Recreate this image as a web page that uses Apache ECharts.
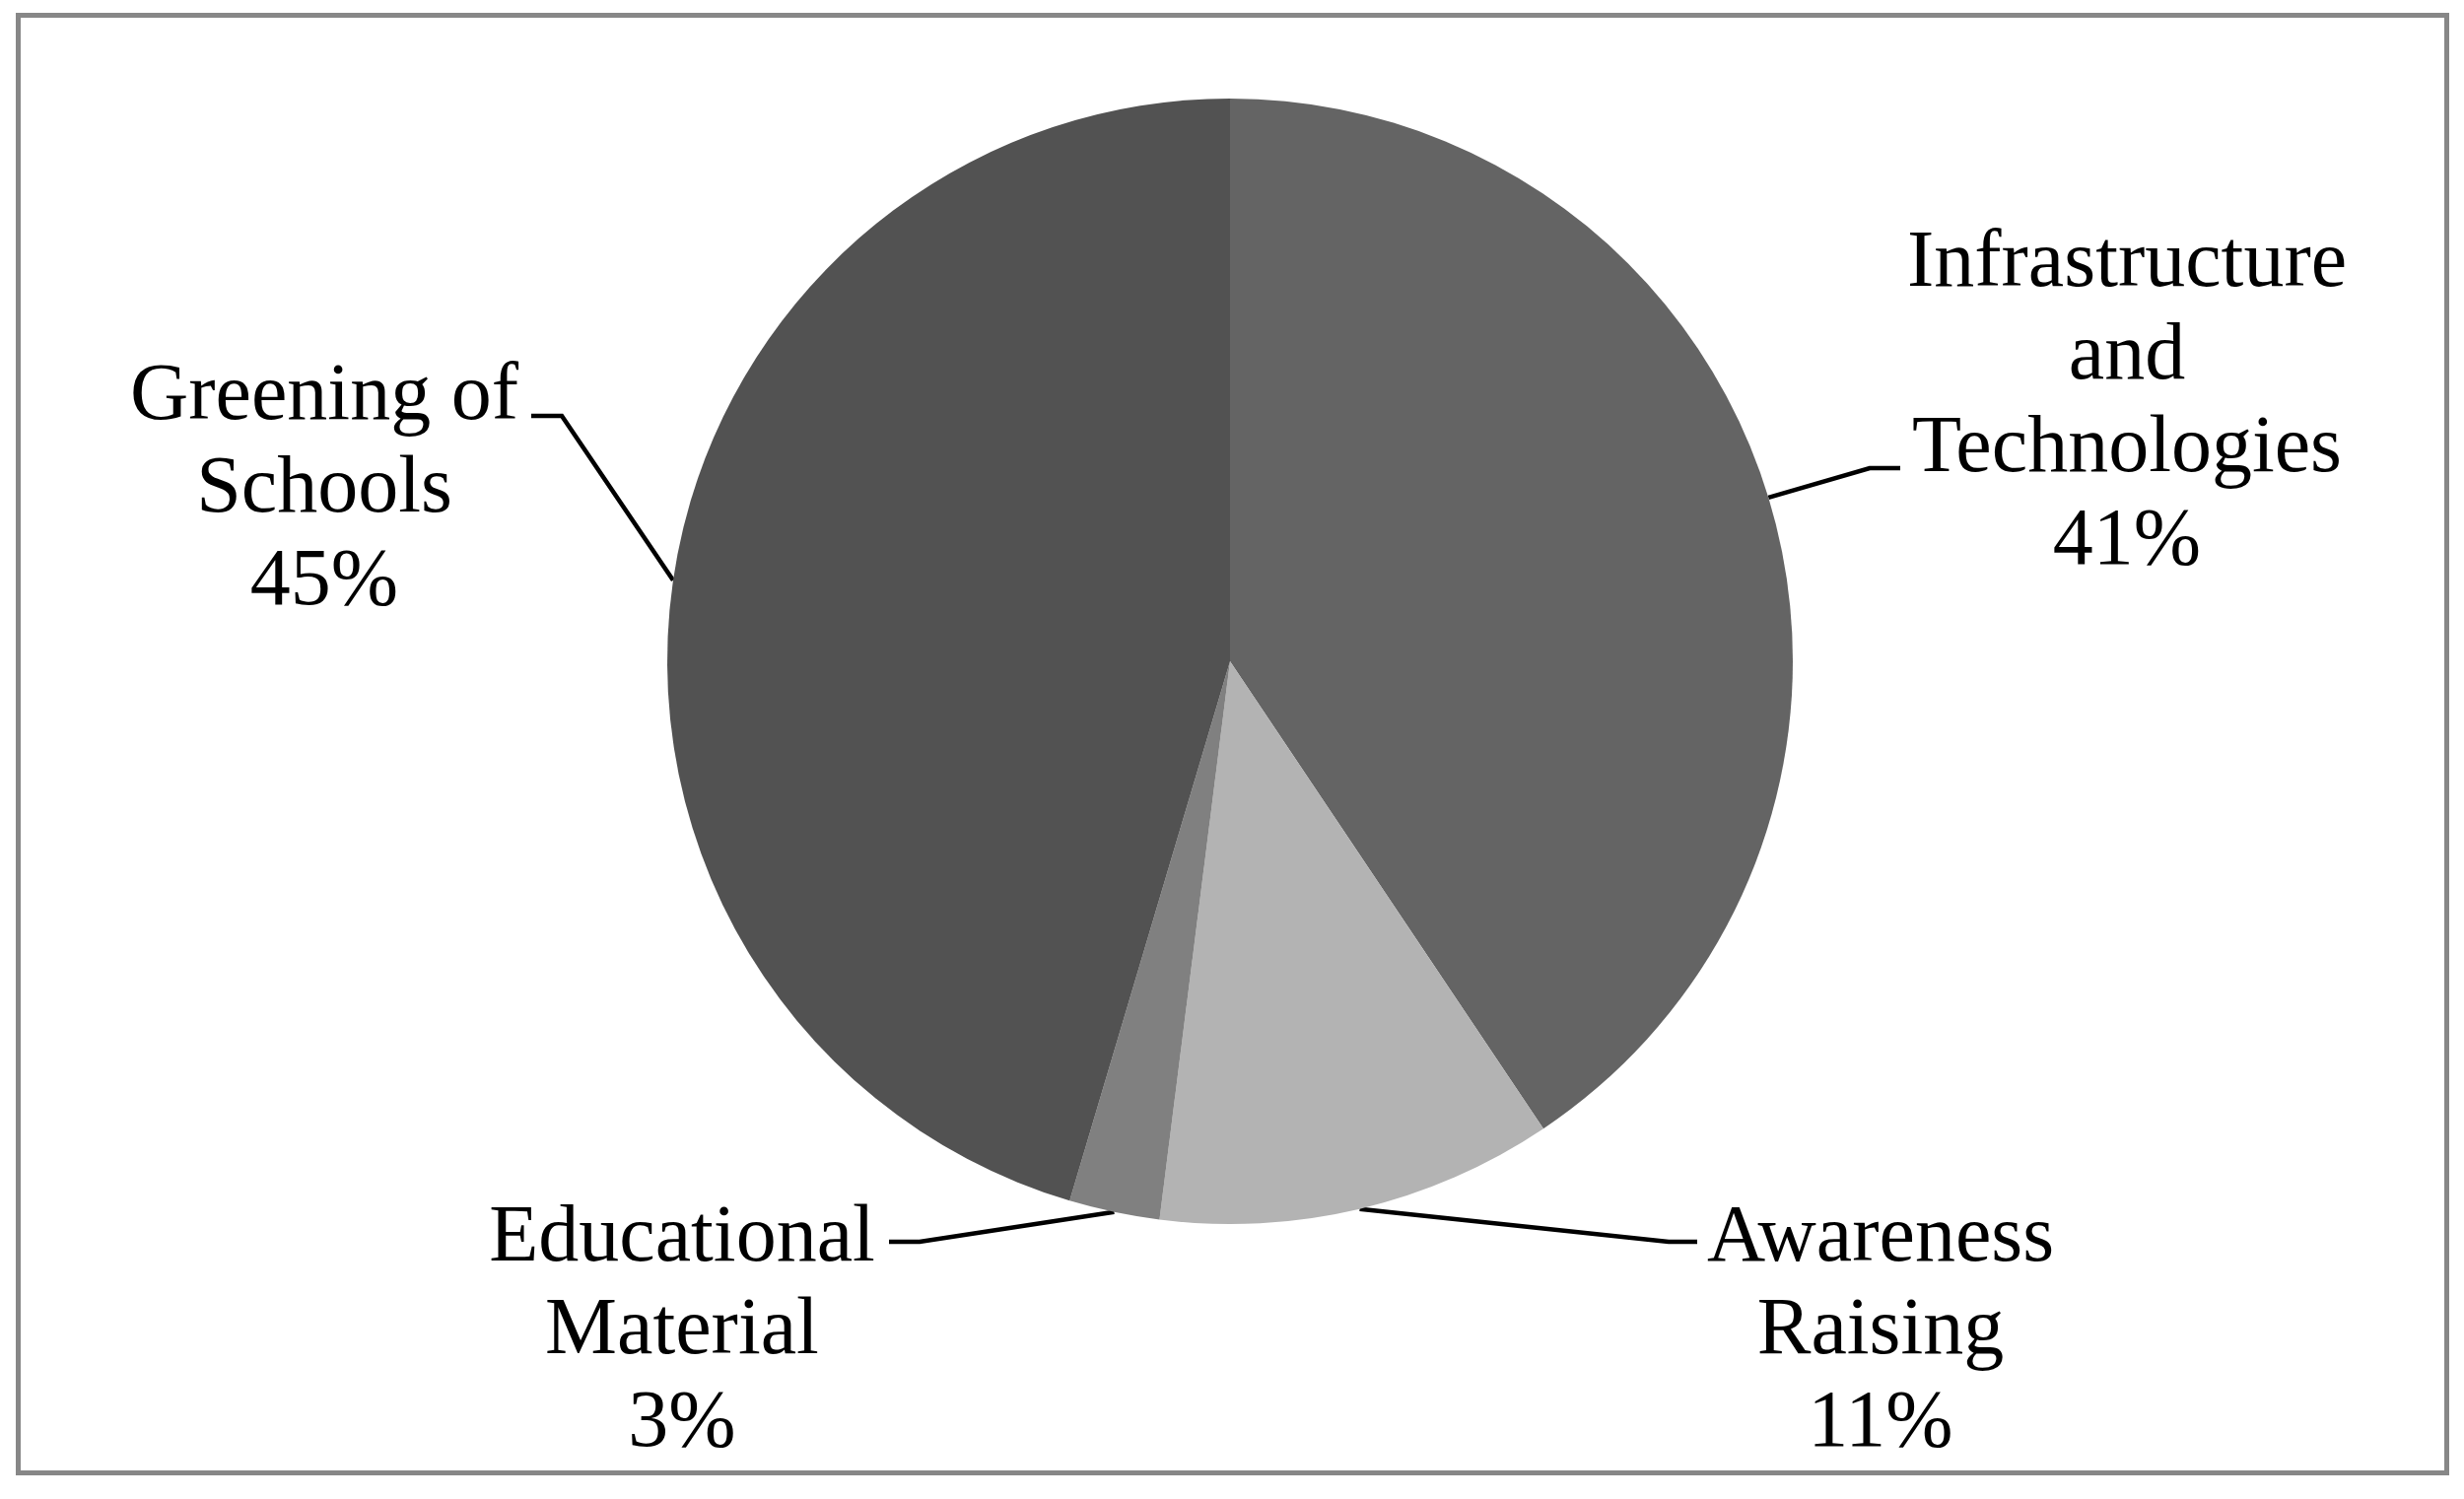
<!DOCTYPE html>
<html>
<head>
<meta charset="utf-8">
<style>
html,body{margin:0;padding:0;background:#fff;}
#chart{width:2500px;height:1521px;}
</style>
<script src="https://cdn.jsdelivr.net/npm/echarts@6/dist/echarts.min.js"></script>
</head>
<body>
<div id="chart"></div>
<script>
// ---- data ----
const categories = ['Infrastructure\nand\nTechnologies', 'Awareness\nRaising', 'Educational\nMaterial', 'Greening of\nSchools'];
const shares = [40.6, 11.4, 2.6, 45.4];
const sliceColors = ['#646464', '#b3b3b3', '#808080', '#525252'];

// ---- layout (label placement, leader-line bends) ----
const pieCenter = [1248, 671];
const pieRadius = 571;
const labelAnchor = [ [2158, 409], [1908, 1351], [692, 1351], [329, 497] ];
const leaderBend = [
  [[1897, 475], [1928, 475]],
  [[1693, 1260], [1722, 1260]],
  [[933, 1260], [902, 1260]],
  [[570, 422], [539, 422]]
];

const total = shares.reduce((a, b) => a + b, 0);
function edgePoint(i) {
  let before = 0;
  for (let k = 0; k < i; k++) before += shares[k];
  const mid = (before + shares[i] / 2) / total * Math.PI * 2;
  return [pieCenter[0] + pieRadius * Math.sin(mid), pieCenter[1] - pieRadius * Math.cos(mid)];
}

const chart = echarts.init(document.getElementById('chart'), null, {renderer: 'canvas'});
chart.setOption({
  backgroundColor: '#ffffff',
  animation: false,
  graphic: [{
    type: 'rect',
    shape: {x: 18.5, y: 15.5, width: 2464, height: 1479},
    style: {fill: null, stroke: '#878787', lineWidth: 5},
    silent: true,
    z: -1
  }],
  series: [{
    type: 'pie',
    center: pieCenter,
    radius: pieRadius,
    startAngle: 90,
    clockwise: true,
    percentPrecision: 0,
    avoidLabelOverlap: false,
    emphasis: {disabled: true},
    itemStyle: {borderWidth: 0},
    label: {
      show: true,
      position: 'outside',
      formatter: '{b}\n{d}%',
      color: '#000000',
      fontFamily: '"Liberation Serif", "Times New Roman", serif',
      fontSize: 82,
      lineHeight: 94,
      align: 'center'
    },
    labelLine: {
      show: true,
      length: 30,
      length2: 30,
      smooth: false,
      lineStyle: {color: '#000000', width: 4.5}
    },
    labelLayout: function (params) {
      const i = params.dataIndex;
      return {
        x: labelAnchor[i][0],
        y: labelAnchor[i][1],
        align: 'center',
        verticalAlign: 'middle',
        labelLinePoints: [edgePoint(i), leaderBend[i][0], leaderBend[i][1]]
      };
    },
    data: categories.map((name, i) => ({
      name: name,
      value: shares[i],
      itemStyle: {color: sliceColors[i]}
    }))
  }]
});
</script>
</body>
</html>
